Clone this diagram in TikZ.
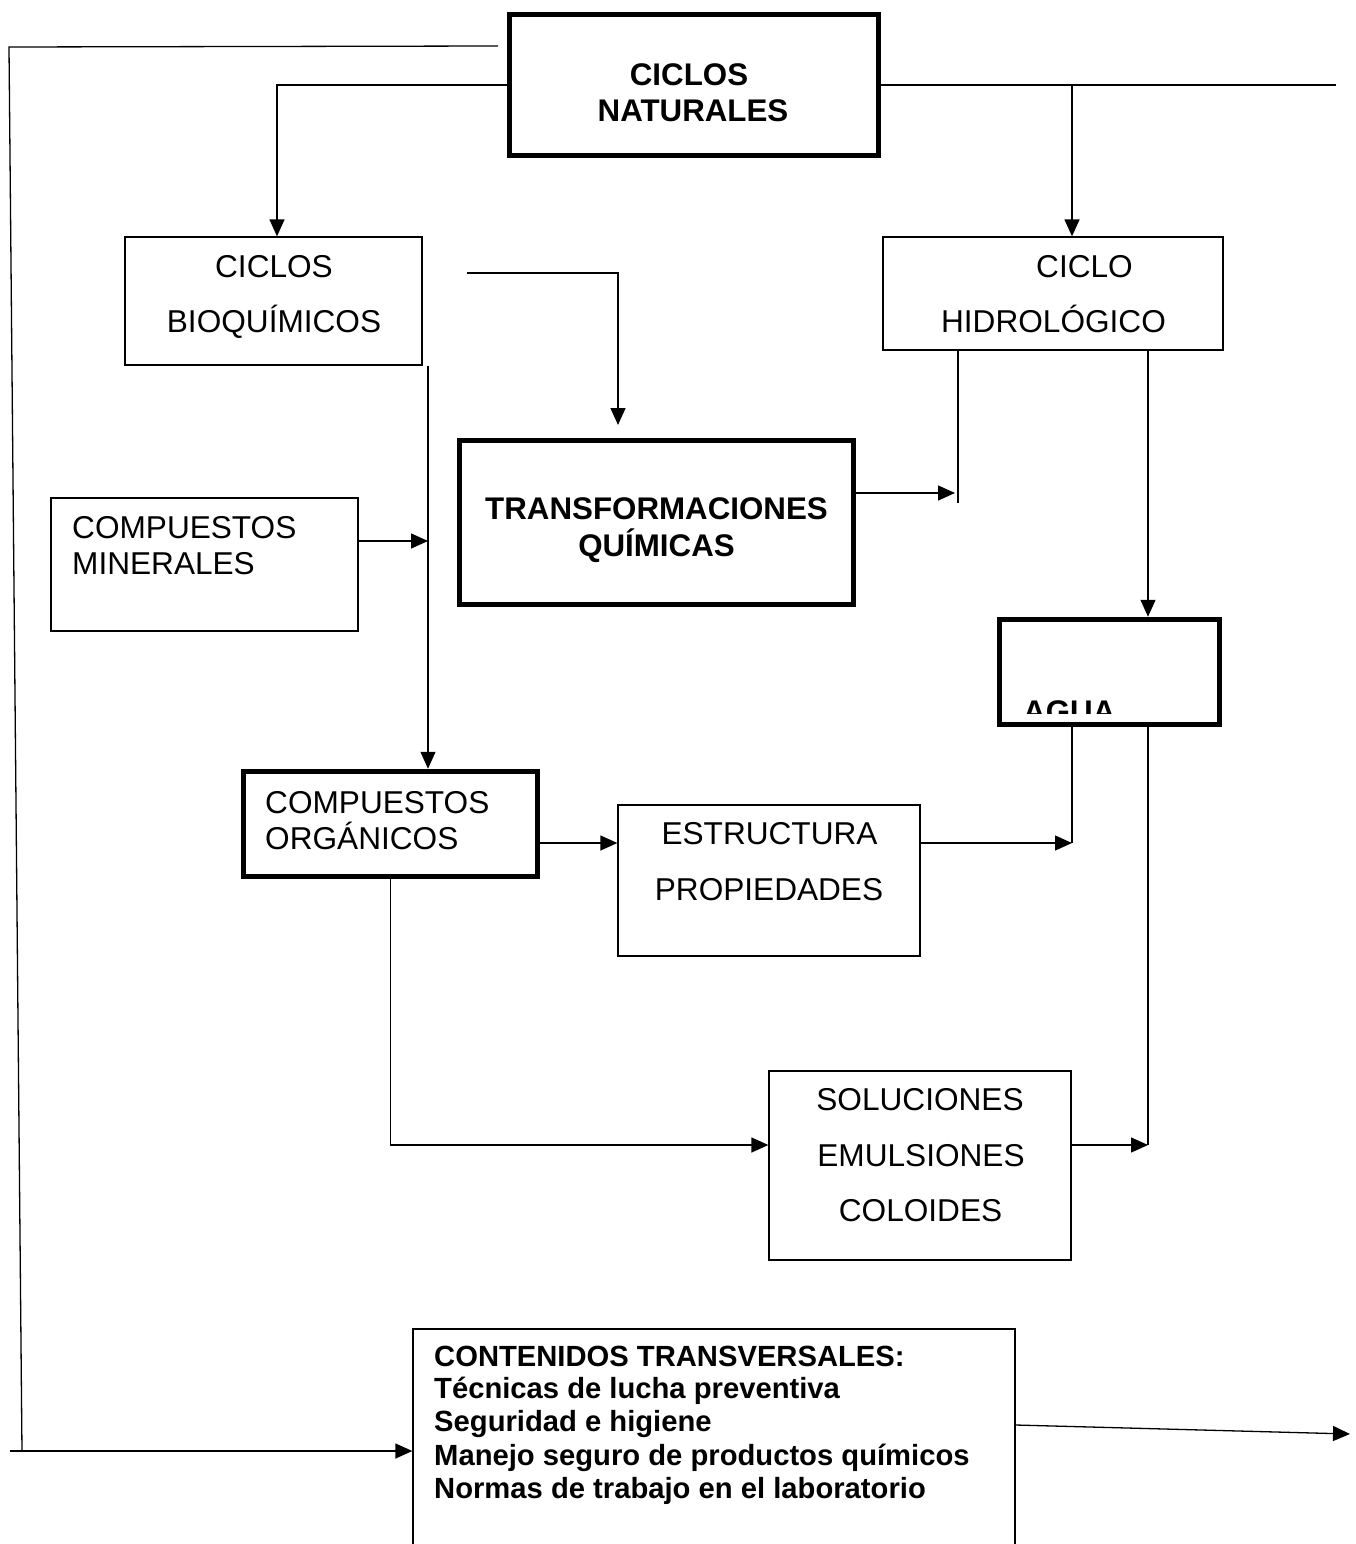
\documentclass[tikz,border=0pt]{standalone}
\usepackage{fontspec}
\setmainfont{Liberation Sans}
\usetikzlibrary{arrows.meta}
\tikzstyle{box}=[rectangle,draw=black,line width=1.3pt,inner sep=0pt]
\tikzstyle{bigbox}=[rectangle,draw=black,line width=5.5pt,inner sep=0pt]
\tikzstyle{lbl}=[inner sep=0pt,anchor=base,font=\fontsize{31.6}{36}\selectfont]
\tikzstyle{blbl}=[inner sep=0pt,anchor=base,font=\fontsize{31.3}{36}\selectfont\bfseries]
\tikzstyle{small}=[inner sep=0pt,anchor=base west,font=\fontsize{29.2}{33}\selectfont\bfseries]
\tikzstyle{link}=[draw=black,line width=1.3pt]
\tikzstyle{arr}=[link,-{Triangle[length=17pt,width=15pt]}]

\begin{document}
\begin{tikzpicture}[x=1pt,y=-1pt]
    \useasboundingbox (0,0) rectangle (1356,1544);
    % boxes
    \node[bigbox,minimum width=369pt,minimum height=141pt] (natur) at (694,85) {};
    \node[box,minimum width=297pt,minimum height=128pt] (bioq) at (273.5,301) {};
    \node[box,minimum width=340pt,minimum height=113pt] (hidro) at (1053,293.5) {};
    \node[bigbox,minimum width=394pt,minimum height=164pt] (trans) at (656.5,522.5) {};
    \node[box,minimum width=307pt,minimum height=133pt] (miner) at (204.5,564.5) {};
    \node[bigbox,minimum width=220pt,minimum height=105pt] (agua) at (1109.5,672) {};
    \node[bigbox,minimum width=294pt,minimum height=105pt] (organ) at (390.5,824) {};
    \node[box,minimum width=302pt,minimum height=151pt] (estruc) at (769,880.5) {};
    \node[box,minimum width=302pt,minimum height=189pt] (solu) at (920,1165.5) {};
    \node[box,minimum width=602pt,minimum height=231pt] (transv) at (714,1444.5) {};
    % texts
    \node[blbl] (naturA) at (689,86) {CICLOS};
    \node[blbl] (naturB) at (693,122) {NATURALES};
    \node[lbl] (bioqA) at (274,277) {CICLOS};
    \node[lbl] (bioqB) at (274,332) {BIOQUÍMICOS};
    \node[lbl] (hidroA) at (1084.5,277) {CICLO};
    \node[lbl] (hidroB) at (1053.5,332) {HIDROLÓGICO};
    \node[blbl] (transA) at (656.5,519) {TRANSFORMACIONES};
    \node[blbl] (transB) at (656.5,556) {QUÍMICAS};
    \node[lbl,anchor=base west] (minerA) at (72,538) {COMPUESTOS};
    \node[lbl,anchor=base west] (minerB) at (72,574) {MINERALES};
    \begin{scope}
      \clip (1000,620) rectangle (1220,713);
      \node[blbl,anchor=base west] (aguaA) at (1023,722) {AGUA};
    \end{scope}
    \node[lbl,anchor=base west] (organA) at (265,813) {COMPUESTOS};
    \node[lbl,anchor=base west] (organB) at (265,849) {ORGÁNICOS};
    \node[lbl] (estrucA) at (769.5,844) {ESTRUCTURA};
    \node[lbl] (estrucB) at (769,900) {PROPIEDADES};
    \node[lbl] (soluA) at (920,1110) {SOLUCIONES};
    \node[lbl] (soluB) at (921,1166) {EMULSIONES};
    \node[lbl] (soluC) at (920.5,1221) {COLOIDES};
    \node[small] (transvA) at (434,1366) {CONTENIDOS TRANSVERSALES:};
    \node[small] (transvB) at (434,1398) {Técnicas de lucha preventiva};
    \node[small] (transvC) at (434,1431) {Seguridad e higiene};
    \node[small] (transvD) at (434,1465) {Manejo seguro de productos químicos};
    \node[small] (transvE) at (434,1498) {Normas de trabajo en el laboratorio};
    % connectors
    \coordinate (tl) at (498,46);
    \coordinate (tlc) at (9,47);
    \coordinate (bl) at (22,1451);
    \coordinate (blstart) at (10,1451);
    \draw[link] (tl) -- (tlc) -- (bl);
    \draw[arr] (blstart) -- ([yshift=-6.5pt]transv.west);
    \draw[arr] (natur.west) -| ([xshift=3.5pt]bioq.north);
    \coordinate (tr) at (1336,85);
    \draw[link] (natur.east) -- (tr);
    \coordinate (hidroin) at ([xshift=19pt]hidro.north);
    \draw[arr] (natur.east -| hidroin) -- (hidroin);
    \coordinate (midin) at (467,273);
    \coordinate (transin) at (618,425);
    \draw[arr] (midin) -| (transin);
    \coordinate (orgin) at ([xshift=37.5pt]organ.north);
    \draw[arr] (orgin |- bioq.south) -- (orgin);
    \coordinate (minerout) at ([yshift=23.5pt]miner.east);
    \draw[arr] (minerout) -- (minerout -| orgin);
    \coordinate (transout) at ([yshift=29.5pt]trans.east);
    \coordinate (hidroleg) at ([xshift=-95pt]hidro.south);
    \draw[link] (hidroleg) -- ++(0,152);
    \draw[arr,shorten >=3pt] (transout) -- (transout -| hidroleg);
    \coordinate (aguain) at ([xshift=38.5pt]agua.north);
    \draw[arr] (aguain |- hidro.south) -- (aguain);
    \coordinate (joinA) at (1072,843);
    \coordinate (joinB) at (1148,1145);
    \draw[link] (joinA |- agua.south) -- (joinA);
    \draw[arr] (estruc.east |- joinA) -- (joinA);
    \draw[link] (joinB |- agua.south) -- (joinB);
    \draw[arr] (solu.east |- joinB) -- (joinB);
    \draw[arr] (organ.east |- joinA) -- (estruc.west |- joinA);
    \draw[arr] (organ.south) |- (solu.west |- joinB);
    \coordinate (trout) at (1350,1434);
    \draw[arr] ([yshift=19.5pt]transv.east) -- (trout);
\end{tikzpicture}
\end{document}
